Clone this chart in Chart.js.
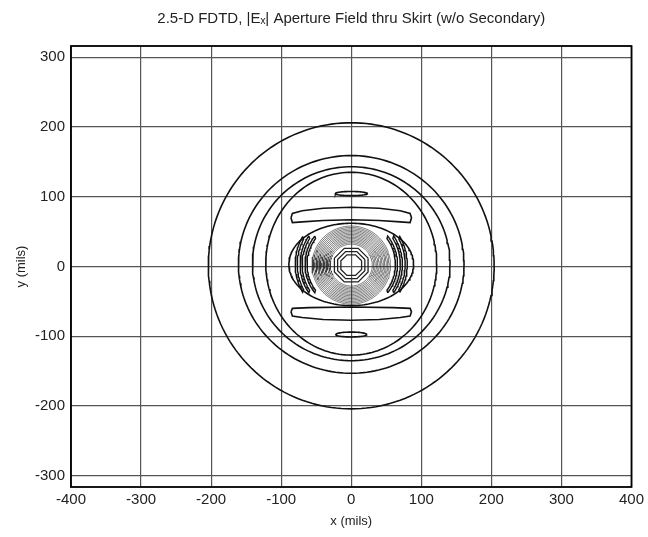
<!DOCTYPE html>
<html>
<head>
<meta charset="utf-8">
<script src="https://cdn.jsdelivr.net/npm/chart.js@4.4.1/dist/chart.umd.min.js"></script>
<style>
  html, body { margin: 0; padding: 0; background: #fff; }
  #wrap { width: 648px; height: 537px; }
</style>
</head>
<body>
<div id="wrap"><canvas id="contourChart"></canvas></div>
<script>
// tick values
const xTicks = [-400, -300, -200, -100, 0, 100, 200, 300, 400];
const yTicks = [-300, -200, -100, 0, 100, 200, 300];

// closed elliptic contours (mils): half widths, half heights, centre y
const ringRx = [204, 161, 141, 122, 89];
const ringRy = [205, 156, 139, 131, 59];
const ringCy = [1, 3, 4, 4, 3];

// small lens contours above / below centre
const lensRx = [23, 22];
const lensRy = [3, 3.5];
const lensCy = [104.5, -97.5];

// crescent bands (x, y pairs)
const topBand = [[-86, 70], [-84, 76], [-70, 80], [-40, 83.5], [0, 85], [40, 83.5], [70, 80], [84, 76], [86, 70],
                 [84, 63], [70, 64], [40, 66], [0, 67], [-40, 66], [-70, 64], [-84, 63], [-86, 70]];
const bottomBand = [[-86, -65], [-84, -60], [-60, -59], [0, -58], [60, -59], [84, -60], [86, -65],
                    [84, -71], [70, -73], [40, -76], [0, -77], [-40, -76], [-70, -73], [-84, -71], [-86, -65]];

// nested side crescents: radius and half angle (deg)
const sideR = [80, 73, 66];
const sideHalf = [30, 34, 38];

// dense ring zone and inner octagonal rings
const denseRadii = [30, 32, 34, 36, 38, 40, 42, 44, 46, 48, 50, 52, 54, 56];
const octRadii = [16, 21, 26];

const FONT = 'Liberation Sans, Arial, Helvetica, sans-serif';

function ellipsePts(rx, ry, cy, n) {
    const pts = [];
    for (let i = 0; i <= n; i++) {
        const t = 2 * Math.PI * i / n;
        pts.push({x: rx * Math.cos(t), y: cy + ry * Math.sin(t)});
    }
    return pts;
}

function crescentPts(r, half, side) {
    const pts = [];
    const base = side < 0 ? 180 : 0;
    for (let a = -half; a <= half; a += 2) {
        const t = (base + a) * Math.PI / 180;
        pts.push({x: r * Math.cos(t), y: 3 + r * Math.sin(t)});
    }
    for (let a = half - 2; a >= -half + 2; a -= 2) {
        const t = (base + a) * Math.PI / 180;
        pts.push({x: (r - 3) * Math.cos(t), y: 3 + (r - 3) * Math.sin(t)});
    }
    pts.push(pts[0]);
    return pts;
}

function line(data, color, width) {
    return {
        data: data,
        showLine: true,
        borderColor: color,
        borderWidth: width,
        pointRadius: 0,
        tension: 0,
        fill: false
    };
}

const datasets = [];
for (let i = 0; i < ringRx.length; i++) {
    datasets.push(line(ellipsePts(ringRx[i], ringRy[i], ringCy[i], 180), '#111', 1.6));
}
for (let i = 0; i < lensRx.length; i++) {
    datasets.push(line(ellipsePts(lensRx[i], lensRy[i], lensCy[i], 60), '#111', 1.6));
}
datasets.push(line(topBand.map(p => ({x: p[0], y: p[1]})), '#111', 1.6));
datasets.push(line(bottomBand.map(p => ({x: p[0], y: p[1]})), '#111', 1.6));
for (let i = 0; i < sideR.length; i++) {
    datasets.push(line(crescentPts(sideR[i], sideHalf[i], -1), '#111', 1.4));
    datasets.push(line(crescentPts(sideR[i], sideHalf[i], 1), '#111', 1.4));
}
denseRadii.forEach(r => {
    datasets.push(line(ellipsePts(r, r, 2, 90), 'rgba(40,40,40,0.6)', 1));
});
octRadii.forEach(r => {
    const pts = [];
    for (let i = 0; i <= 8; i++) {
        const t = Math.PI / 8 + 2 * Math.PI * i / 8;
        pts.push({x: r * Math.cos(t), y: 2 + r * Math.sin(t)});
    }
    datasets.push(line(pts, '#222', 1.3));
});

const frame = {
    id: 'frame',
    afterDatasetsDraw(chart) {
        const a = chart.chartArea;
        const ctx = chart.ctx;
        ctx.save();
        ctx.strokeStyle = '#000';
        ctx.lineWidth = 1.8;
        ctx.strokeRect(a.left, a.top, a.right - a.left, a.bottom - a.top);
        ctx.restore();
    }
};

new Chart(document.getElementById('contourChart'), {
    type: 'scatter',
    data: { datasets: datasets },
    options: {
        responsive: true,
        maintainAspectRatio: false,
        animation: false,
        layout: { padding: { left: 0, right: 16, top: 0, bottom: 0 } },
        plugins: {
            legend: { display: false },
            tooltip: { enabled: false },
            title: {
                display: true,
                fullSize: false,
                text: '2.5-D FDTD, |E\u2093| Aperture Field thru Skirt (w/o Secondary)',
                color: '#222',
                font: { family: FONT, size: 15, weight: 'normal' },
                padding: { top: 10, bottom: 18 }
            }
        },
        scales: {
            x: {
                type: 'linear',
                min: -400,
                max: 400,
                afterBuildTicks: s => { s.ticks = xTicks.map(v => ({value: v})); },
                afterFit: s => { s.height = 50; },
                grid: { color: '#555', lineWidth: 1.2, tickLength: 0 },
                border: { display: false },
                ticks: { color: '#222', padding: 4, maxRotation: 0, font: { family: FONT, size: 15 } },
                title: {
                    display: true,
                    text: 'x (mils)',
                    color: '#222',
                    font: { family: FONT, size: 13 },
                    padding: { top: 0, bottom: 8 }
                }
            },
            y: {
                type: 'linear',
                min: -316,
                max: 316,
                afterBuildTicks: s => { s.ticks = yTicks.map(v => ({value: v})); },
                afterFit: s => { s.width = 71; },
                grid: { color: '#555', lineWidth: 1.2, tickLength: 0 },
                border: { display: false },
                ticks: { color: '#222', padding: 6, font: { family: FONT, size: 15 } },
                title: {
                    display: true,
                    text: 'y (mils)',
                    color: '#222',
                    font: { family: FONT, size: 13 },
                    padding: { top: 14, bottom: 0 }
                }
            }
        }
    },
    plugins: [frame]
});
</script>
</body>
</html>
